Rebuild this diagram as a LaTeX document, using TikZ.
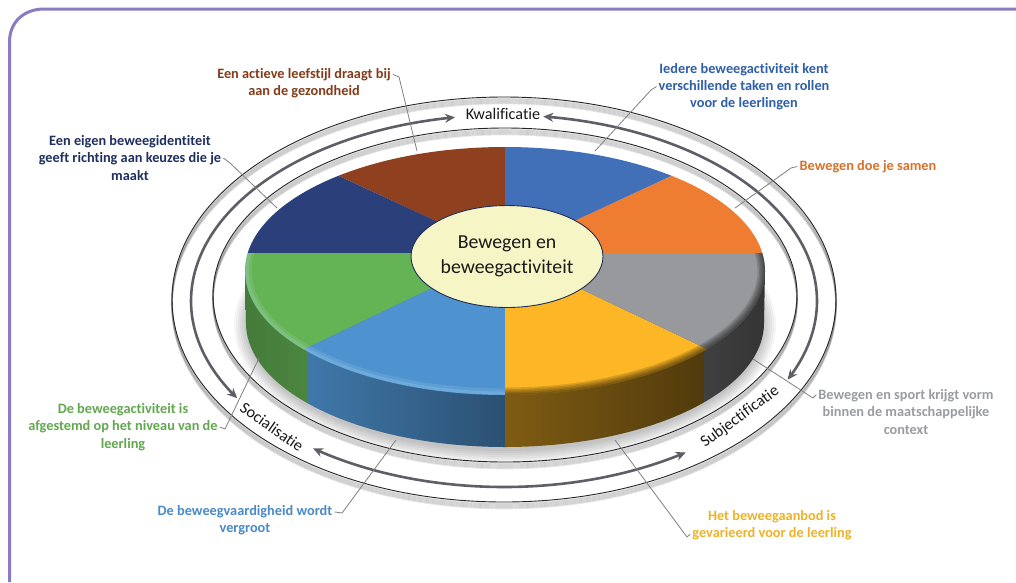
\documentclass[tikz,border=0pt]{standalone}
\usepackage{fontspec}
\setmainfont{Carlito}[Ligatures=NoCommon]
\usetikzlibrary{arrows.meta,shapes.geometric}
\definecolor{cBrown}{HTML}{8F411F}
\definecolor{cBlue}{HTML}{4170B8}
\definecolor{cOrange}{HTML}{EE7C31}
\definecolor{cGray}{HTML}{97999D}
\definecolor{cYellow}{HTML}{FDB726}
\definecolor{cSky}{HTML}{4E92CF}
\definecolor{cGreen}{HTML}{64B355}
\definecolor{cNavy}{HTML}{2B407A}
\definecolor{tBrown}{HTML}{843C1A}
\definecolor{tBlue}{HTML}{2F5FA8}
\definecolor{tOrange}{HTML}{D9702B}
\definecolor{tGray}{HTML}{9A9CA2}
\definecolor{tYellow}{HTML}{EDB22A}
\definecolor{tSky}{HTML}{4A8AC6}
\definecolor{tGreen}{HTML}{62A84F}
\definecolor{tNavy}{HTML}{1F3060}
\definecolor{cFrame}{HTML}{8A7BC2}
\definecolor{cTurn}{HTML}{5E5F66}
\definecolor{cCentre}{HTML}{F6F5C6}
\tikzset{
  lab/.style={font=\fontsize{14.3}{17.3}\selectfont\bfseries, align=center, inner sep=0pt},
  ringlab/.style={font=\fontsize{16.2}{18}\selectfont, inner sep=0pt, text=black!90},
  leader/.style={draw=black!50, line width=0.8pt, line join=round},
  turn/.style={draw=cTurn, line width=2.6pt, {Stealth[length=10pt,width=9pt]}-{Stealth[length=10pt,width=9pt]}},
  ringline/.style={draw=black!85, line width=0.9pt},
  ringshade/.style={draw=black, line width=1.6pt, opacity=0.10},
}
\newcommand{\ringell}[4]{%
  \foreach \k in {1,...,6}{\draw[ringshade] (#1,#2+\k+0.5) ellipse [x radius=#3, y radius=#4];}
  \draw[ringline] (#1,#2) ellipse [x radius=#3, y radius=#4];}
\newcommand{\sector}[3]{\fill[#1] (505,253) -- #2 -- #3 -- cycle;}
\begin{document}
\begin{tikzpicture}[x=1pt,y=-1pt]
\useasboundingbox (0,0) rectangle (1016,582);
\fill[white] (0,0) rectangle (1016,582);
% frame
\draw[cFrame, line width=3pt] (9.5,582) -- (9.5,42) .. controls (9.5,22) and (24,9) .. (44,9) -- (1016,9);
% rings
\ringell{504}{299.5}{332}{202.5}
\ringell{505}{295}{292}{167}
% soft shadow of the disc
\foreach \k in {2,4,...,14}{\fill[black,opacity=0.035] (505,325) ellipse [x radius=257+\k, y radius=124+\k];}
% turning arrows
\draw[turn] plot[domain=99:211.5,samples=90,smooth] ({504+313*cos(\x)},{301-186*sin(\x)});
\draw[turn] plot[domain=82.8:-25,samples=90,smooth] ({504+313*cos(\x)},{301-186*sin(\x)});
\draw[turn] plot[domain=232.4:305.5,samples=60,smooth] ({504+313*cos(\x)},{301-186*sin(\x)});
% side of the disc
\begin{scope}
  \clip plot[domain=180:360,samples=120,smooth] ({505+259*cos(\x)},{323-124*sin(\x)}) -- (765,271) -- (245,271) -- cycle;
  \shade[left color=cGreen!68!black, right color=cGreen!75!black] (240,260) rectangle (307,460);
  \shade[left color=cSky!82!black, right color=cSky!55!black] (307,260) rectangle (505,460);
  \shade[left color=cYellow!50!black, right color=cYellow!32!black] (505,260) rectangle (704,460);
  \shade[left color=black!75, right color=black!80] (704,260) rectangle (770,460);
\end{scope}
% top of the disc
\begin{scope}
  \clip (505,271) ellipse [x radius=260, y radius=124];
  \sector{cBrown}{(505,100)}{(175,100)}
  \sector{cNavy}{(175,100)}{(100,253)}
  \sector{cGreen}{(100,253)}{(109,443)}
  \sector{cSky}{(109,443)}{(505,500)}
  \sector{cYellow}{(505,500)}{(905,443)}
  \sector{cGray}{(905,443)}{(900,253)}
  \sector{cOrange}{(900,253)}{(835,100)}
  \sector{cBlue}{(835,100)}{(505,100)}
  \begin{scope}
    \clip (505,253) -- (100,253) -- (109,443) -- (505,500) -- cycle;
    \draw[white,opacity=0.10,line width=7pt] (505,271) ellipse [x radius=257, y radius=121];
    \draw[cyan!40!white,opacity=0.22,line width=3pt] (505,271) ellipse [x radius=258, y radius=122];
  \end{scope}
  \begin{scope}
    \clip (505,253) -- (505,500) -- (905,443) -- (900,253) -- cycle;
    \foreach \w in {3,6,9,12,15}{\draw[black,opacity=0.13,line width=\w pt] (505,271) ellipse [x radius=260, y radius=124];}
  \end{scope}
\end{scope}
% centre
\node[ellipse, draw=cNavy!70!black, line width=0.9pt, fill=cCentre, inner sep=0pt, minimum width=192pt, minimum height=102pt] (centre) at (507,256.5) {};
\node[align=center, inner sep=0pt, font=\fontsize{19.8}{25}\selectfont, text=black!90] (centreText) at (centre.center) {Bewegen en\\beweegactiviteit};
% ring labels
\node[ringlab] (kwal) at (503,114) {Kwalificatie};
\node[ringlab, rotate=-35] (soc) at (272,427) {Socialisatie};
\node[ringlab, rotate=36] (subj) at (740,417) {Subjectificatie};
% labels
\node[lab, text=tBrown] (lBrown) at (304,83) {Een actieve leefstijl draagt bij\\aan de gezondheid};
\node[lab, text=tBlue] (lBlue) at (744,86.5) {Iedere beweegactiviteit kent\\verschillende taken en rollen\\voor de leerlingen};
\node[lab, text=tOrange] (lOrange) at (868,166.5) {Bewegen doe je samen};
\node[lab, text=tNavy] (lNavy) at (130,158) {Een eigen beweegidentiteit\\geeft richting aan keuzes die je\\maakt};
\node[lab, text=tGreen] (lGreen) at (123,427) {De beweegactiviteit is\\afgestemd op het niveau van de\\leerling};
\node[lab, text=tSky] (lSky) at (245,520.5) {De beweegvaardigheid wordt\\vergroot};
\node[lab, text=tYellow] (lYellow) at (772,525.5) {Het beweegaanbod is\\gevarieerd voor de leerling};
\node[lab, text=tGray] (lGray) at (906,412) {Bewegen en sport krijgt vorm\\binnen de maatschappelijke\\context};
% leader ends
\coordinate (kBrown) at (399,77); \coordinate (eBrown) at (417,151);
\coordinate (kBlue) at (651,90); \coordinate (eBlue) at (595,151);
\coordinate (kOrange) at (791,168); \coordinate (eOrange) at (735,208);
\coordinate (kNavy) at (230,163); \coordinate (eNavy) at (277,208);
\coordinate (kGreen) at (225,429); \coordinate (eGreen) at (259,358);
\coordinate (kSky) at (342,513); \coordinate (eSky) at (396,440);
\coordinate (kYellow) at (687,537); \coordinate (eYellow) at (615,440);
\coordinate (kGray) at (813,398); \coordinate (eGray) at (753,359);
\draw[leader] ([yshift=8.6pt,xshift=2pt]lBrown.east) -- (kBrown) -- (eBrown);
\draw[leader] ([xshift=-2pt]lBlue.west) -- (kBlue) -- (eBlue);
\draw[leader] ([xshift=-2pt]lOrange.west) -- (kOrange) -- (eOrange);
\draw[leader] ([xshift=2pt]lNavy.east) -- (kNavy) -- (eNavy);
\draw[leader] ([xshift=2pt]lGreen.east) -- (kGreen) -- (eGreen);
\draw[leader] ([yshift=8.6pt,xshift=2pt]lSky.east) -- (kSky) -- (eSky);
\draw[leader] ([yshift=-8.6pt,xshift=-2pt]lYellow.west) -- (kYellow) -- (eYellow);
\draw[leader] ([yshift=17.3pt,xshift=-2pt]lGray.west) -- (kGray) -- (eGray);
\end{tikzpicture}
\end{document}
